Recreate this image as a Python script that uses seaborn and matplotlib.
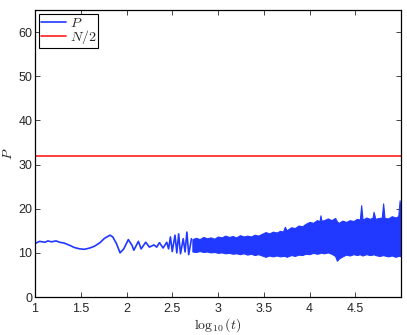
import matplotlib
matplotlib.use("Agg")
import matplotlib.pyplot as plt
import seaborn as sns
import pandas as pd

# --------------------------------------------------
# Data
# --------------------------------------------------
N = 64

# early, resolved part of P(t)
early_logt = [1.01, 1.05, 1.11, 1.14, 1.18, 1.23, 1.27, 1.32, 1.38, 1.43,
              1.49, 1.54, 1.60, 1.65, 1.71, 1.76, 1.82, 1.85, 1.89, 1.93,
              1.97, 2.02, 2.06, 2.08, 2.13, 2.16, 2.21, 2.25, 2.30, 2.33,
              2.36, 2.40, 2.44, 2.46, 2.48, 2.50, 2.53, 2.55, 2.57, 2.59,
              2.62, 2.64, 2.66, 2.68, 2.71]
early_P = [12.2, 12.6, 12.4, 12.7, 12.5, 12.7, 12.4, 12.2, 11.7, 11.2,
           10.9, 10.8, 11.1, 11.5, 12.3, 13.3, 14.0, 13.6, 12.1, 10.0,
           10.9, 13.0, 11.7, 10.6, 12.6, 10.9, 12.4, 11.3, 11.8, 11.3,
           12.3, 11.1, 12.4, 10.9, 13.6, 10.3, 14.0, 10.0, 14.3, 9.8,
           13.2, 10.2, 14.7, 9.6, 13.2]

# late part: P oscillates too fast to resolve, so keep its envelope
band_logt = [2.72, 2.76, 2.80, 2.84, 2.88, 2.92, 2.96, 3.00, 3.04, 3.08,
             3.12, 3.16, 3.20, 3.24, 3.28, 3.32, 3.36, 3.40, 3.44, 3.48,
             3.52, 3.56, 3.60, 3.64, 3.68, 3.71, 3.73, 3.75, 3.80, 3.84,
             3.88, 3.92, 3.96, 4.00, 4.04, 4.08, 4.11, 4.12, 4.13, 4.16,
             4.20, 4.24, 4.28, 4.30, 4.32, 4.36, 4.40, 4.44, 4.48, 4.52,
             4.55, 4.565, 4.58, 4.62, 4.66, 4.69, 4.70, 4.72, 4.76, 4.79,
             4.805, 4.82, 4.86, 4.90, 4.94, 4.97, 4.985, 5.00]
band_hi = [13.1, 13.4, 13.1, 13.6, 13.3, 13.5, 13.2, 13.7, 13.5, 13.9,
           13.6, 13.8, 13.5, 14.0, 13.7, 13.9, 13.7, 14.1, 13.9, 14.3,
           14.7, 14.4, 14.8, 14.6, 15.0, 14.8, 15.9, 15.1, 15.8, 15.6,
           16.2, 16.0, 16.6, 17.0, 16.8, 17.4, 17.2, 18.5, 17.3, 17.4,
           17.8, 17.4, 17.9, 17.1, 16.8, 17.3, 17.0, 17.4, 17.2, 17.7,
           17.5, 20.8, 17.5, 18.0, 17.7, 18.0, 19.3, 17.7, 17.9, 18.0,
           21.2, 17.9, 17.8, 18.3, 18.0, 18.3, 21.9, 18.6]
band_lo = [10.3, 10.2, 10.4, 10.2, 10.3, 10.1, 10.2, 10.0, 10.1, 9.9,
           10.0, 9.8, 9.9, 9.7, 9.9, 9.6, 9.8, 9.5, 9.7, 9.4,
           9.1, 9.4, 9.2, 9.4, 9.2, 9.3, 9.3, 9.1, 9.5, 9.3,
           9.6, 9.5, 9.8, 9.7, 10.0, 9.8, 9.9, 10.1, 10.0, 9.9,
           10.1, 9.8, 9.3, 8.2, 8.7, 9.2, 9.6, 9.4, 9.7, 9.5,
           9.7, 9.5, 9.4, 9.7, 9.5, 9.6, 9.7, 9.5, 9.3, 9.4,
           9.5, 9.4, 9.2, 9.4, 9.1, 9.3, 9.3, 9.2]

x_ticks = [1, 1.5, 2, 2.5, 3, 3.5, 4, 4.5]
x_tick_labels = ["1", "1.5", "2", "2.5", "3", "3.5", "4", "4.5"]
y_ticks = [0, 10, 20, 30, 40, 50, 60]

blue = "#2038ff"
red = "#ff1c1c"

# --------------------------------------------------
# Style
# --------------------------------------------------
sns.set_style("ticks")
plt.rcParams["font.family"] = ["Liberation Sans", "DejaVu Sans"]
plt.rcParams["mathtext.fontset"] = "cm"
plt.rcParams["xtick.direction"] = "in"
plt.rcParams["ytick.direction"] = "in"

fig = plt.figure(figsize=(4.07, 3.35), dpi=100)
ax = fig.add_axes([35 / 407, 38 / 335, 366 / 407, 287 / 335])

early = pd.DataFrame({"logt": early_logt, "P": early_P})
sns.lineplot(data=early, x="logt", y="P", color=blue, lw=1.2,
             label="$P$", ax=ax)
ax.fill_between(band_logt, band_lo, band_hi, color=blue, lw=0.8,
                edgecolor=blue)
ax.axhline(N / 2, color=red, lw=1.2, label="$N/2$")

ax.set_xlim(1, 5)
ax.set_ylim(0, 65)
ax.set_xticks(x_ticks)
ax.set_xticklabels(x_tick_labels)
ax.set_yticks(y_ticks)
ax.tick_params(labelsize=9, length=3.5, width=0.6, top=True, right=True)
ax.tick_params(axis="x", pad=4)
ax.tick_params(axis="y", pad=2)
for s in ax.spines.values():
    s.set_visible(True)
    s.set_linewidth(0.9)
    s.set_color("black")

ax.set_xlabel(r"$\log_{10}(t)$", fontsize=10, labelpad=1)
ax.set_ylabel("$P$", fontsize=10, labelpad=2)

leg = ax.legend(loc="upper left", fontsize=10, handlelength=1.8,
                borderpad=0.1, labelspacing=-0.1, handletextpad=0.3,
                borderaxespad=0.3, fancybox=False, framealpha=1)
leg.get_frame().set_edgecolor("black")
leg.get_frame().set_linewidth(0.8)

fig.savefig("out.png", dpi=100)
